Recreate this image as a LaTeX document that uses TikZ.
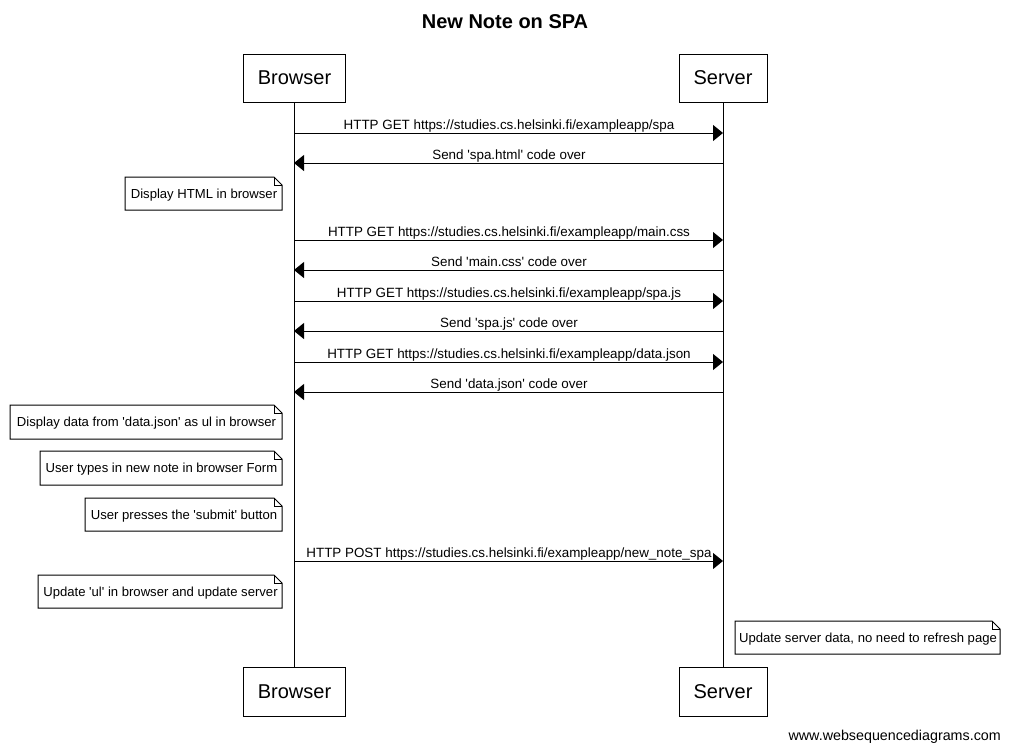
\documentclass[tikz,border=0pt]{standalone}
\usepackage{fontspec}
\setmainfont{Liberation Sans}
\usetikzlibrary{arrows.meta}
\newcommand\sq{\textquotesingle}
\begin{document}
\begin{tikzpicture}[x=1pt,y=-1pt,
  actor/.style={draw,line width=1pt,inner sep=0pt,font=\fontsize{20}{24}\selectfont},
  life/.style={line width=1pt},
  msg/.style={line width=1pt,-{Triangle[length=10pt,width=16pt]}},
  msglabel/.style={anchor=base,inner sep=0pt,font=\fontsize{13.4}{15}\selectfont},
  notetext/.style={inner sep=0pt,font=\fontsize{13.1}{15}\selectfont},
  notebox/.style={line width=1pt,fill=white}]
\useasboundingbox (0,0) rectangle (1010,750);
% title
\node[font=\bfseries\fontsize{20}{24}\selectfont] (title) at (505,22) {New Note on SPA};
% actors
\node[actor,minimum width=102pt,minimum height=48pt] (Btop) at (294,78) {\kern1pt Browser};
\node[actor,minimum width=88pt,minimum height=48pt] (Stop) at (723,78) {Server};
\node[actor,minimum width=102pt,minimum height=49pt] (Bbot) at (294,691.5) {\kern1pt Browser};
\node[actor,minimum width=88pt,minimum height=49pt] (Sbot) at (723,691.5) {Server};
\draw[life] (Btop.south) -- (Bbot.north);
\draw[life] (Stop.south) -- (Sbot.north);
% messages
\foreach \y/\dir/\txt in {
  133/r/{HTTP GET https://studies.cs.helsinki.fi/exampleapp/spa},
  163/l/{Send \sq spa.html\sq{} code over},
  240/r/{HTTP GET https://studies.cs.helsinki.fi/exampleapp/main.css},
  270/l/{Send \sq main.css\sq{} code over},
  301/r/{HTTP GET https://studies.cs.helsinki.fi/exampleapp/spa.js},
  331/l/{Send \sq spa.js\sq{} code over},
  362/r/{HTTP GET https://studies.cs.helsinki.fi/exampleapp/data.json},
  392/l/{Send \sq data.json\sq{} code over},
  561/r/{HTTP POST https://studies.cs.helsinki.fi/exampleapp/new\_note\_spa}}{
  \coordinate (b\y) at (Btop.south |- 0,\y);
  \coordinate (s\y) at (Stop.south |- 0,\y);
  \if\dir r
    \draw[msg] (b\y) -- (s\y);
  \else
    \draw[msg] (s\y) -- (b\y);
  \fi
  \node[msglabel] (lbl\y) at (509,\y-4) {\txt};
}
% notes
\foreach \name/\xa/\ya/\xb/\yb/\txt in {
  n1/125/177/282/210/{Display HTML in browser},
  n2/10/405/282/439/{Display data from \sq data.json\sq{} as ul in browser},
  n3/40/451/282/485/{User types in new note in browser Form},
  n4/85/498/282/531/{User presses the \sq submit\sq{} button},
  n5/38/575/282/608/{Update \sq ul\sq{} in browser and update server},
  n6/735/621/1000/654/{Update server data, no need to refresh page}}{
  \draw[notebox] (\xa,\ya) -- (\xb-8,\ya) -- (\xb,\ya+8) -- (\xb,\yb) -- (\xa,\yb) -- cycle;
  \draw[line width=0.6pt] (\xb-8,\ya) -- (\xb-8,\ya+8) -- (\xb,\ya+8);
  \node[notetext] (\name) at ({(\xa+\xb)/2+0.5},{(\ya+\yb)/2+1.5}) {\txt};
}
% footer
\node[anchor=base east,inner sep=0pt,font=\fontsize{14.3}{17}\selectfont] (footer) at (1001,740) {www.websequencediagrams.com};
\end{tikzpicture}
\end{document}
